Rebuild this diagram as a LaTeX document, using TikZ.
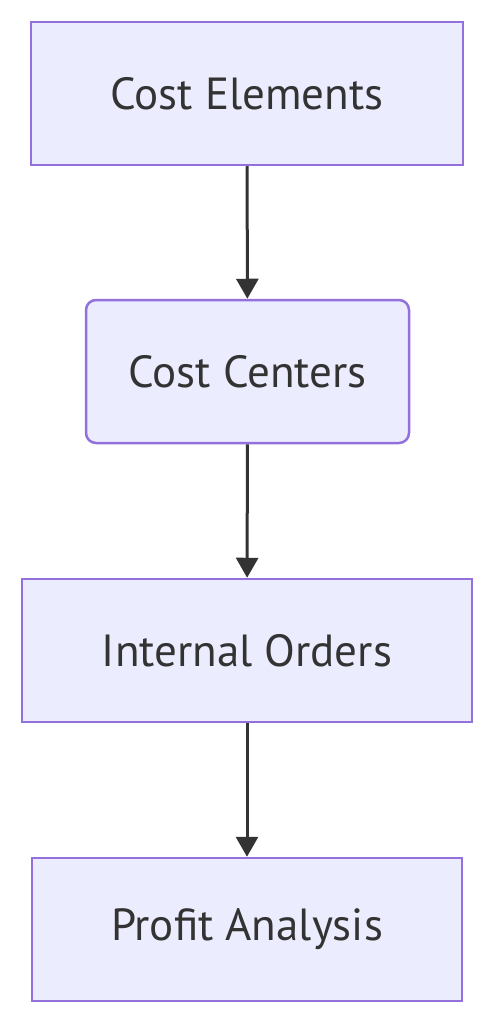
\documentclass[tikz,border=0pt]{standalone}
\usepackage{fontspec}
\setmainfont{PT Sans}
\usepackage{tikz}
\usetikzlibrary{arrows.meta}
\usepackage{xcolor}
\definecolor{boxfill}{HTML}{ECECFF}
\definecolor{boxline}{HTML}{9370DB}
\definecolor{ink}{HTML}{333333}

\begin{document}
\begin{tikzpicture}[x=1pt, y=1pt,
    stage/.style={draw=boxline, fill=boxfill, line width=2.5pt, text=ink,
        minimum height=143pt, inner sep=0pt, font=\fontsize{45}{52}\selectfont},
    flow/.style={draw=ink, line width=3pt, -{Triangle[length=20pt, width=22pt]}}]
    \useasboundingbox (0, 0) rectangle (494, -1024);
    % cost flow
    \node[stage, minimum width=432pt] (ce) at (247, -93.5) {Cost Elements};
    \node[stage, minimum width=323pt, rounded corners=10pt] (cc) at (247.5, -371.5) {Cost Centers};
    \node[stage, minimum width=450pt] (io) at (247, -650.5) {Internal Orders};
    \node[stage, minimum width=430pt] (pa) at (247, -929.5) {Profit Analysis};

    \draw[flow] (ce) -- (cc);
    \draw[flow] (cc) -- (io);
    \draw[flow] (io) -- (pa);
\end{tikzpicture}
\end{document}
